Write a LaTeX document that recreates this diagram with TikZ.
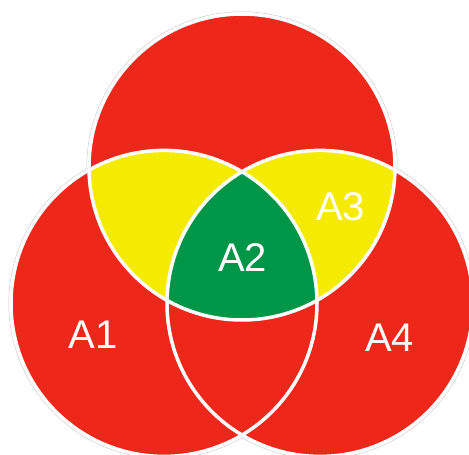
\documentclass[tikz,border=0pt]{standalone}
\usepackage{fontspec}
\setmainfont{Liberation Sans}
\definecolor{vred}{RGB}{238,39,27}
\definecolor{vyellow}{RGB}{245,235,0}
\definecolor{vgreen}{RGB}{0,150,72}
\tikzset{
  label/.style={text=white,font=\fontsize{40}{42}\selectfont,inner sep=0pt,anchor=center},
  rim/.style={draw=white,line width=3.5pt},
  halo/.style={draw=black!22,line width=0.5pt}
}
\begin{document}
\begin{tikzpicture}[x=1pt,y=-1pt]
\useasboundingbox (0,0) rectangle (469,455);
\def\R{153}
\coordinate (ct) at (242,167);
\coordinate (cl) at (164,303.4);
\coordinate (cr) at (320,303.4);
% faint outer outline
\foreach \c in {ct,cl,cr} \draw[halo] (\c) circle (\R+2.2);
% red bodies
\foreach \c in {ct,cl,cr} \fill[vred] (\c) circle (\R);
% yellow and green overlaps
\begin{scope}
  \clip (ct) circle (\R);
  \fill[vyellow] (cl) circle (\R);
  \fill[vyellow] (cr) circle (\R);
  \clip (cl) circle (\R);
  \fill[vgreen] (cr) circle (\R);
\end{scope}
% white rims
\foreach \c in {ct,cl,cr} \draw[rim] (\c) circle (\R);
% labels
\node[label] (a1) at (93,335) {A1};
\node[label] (a2) at (242.5,257.5) {A2};
\node[label] (a3) at (340.5,206.5) {A3};
\node[label] (a4) at (389.5,337.5) {A4};
\end{tikzpicture}
\end{document}
